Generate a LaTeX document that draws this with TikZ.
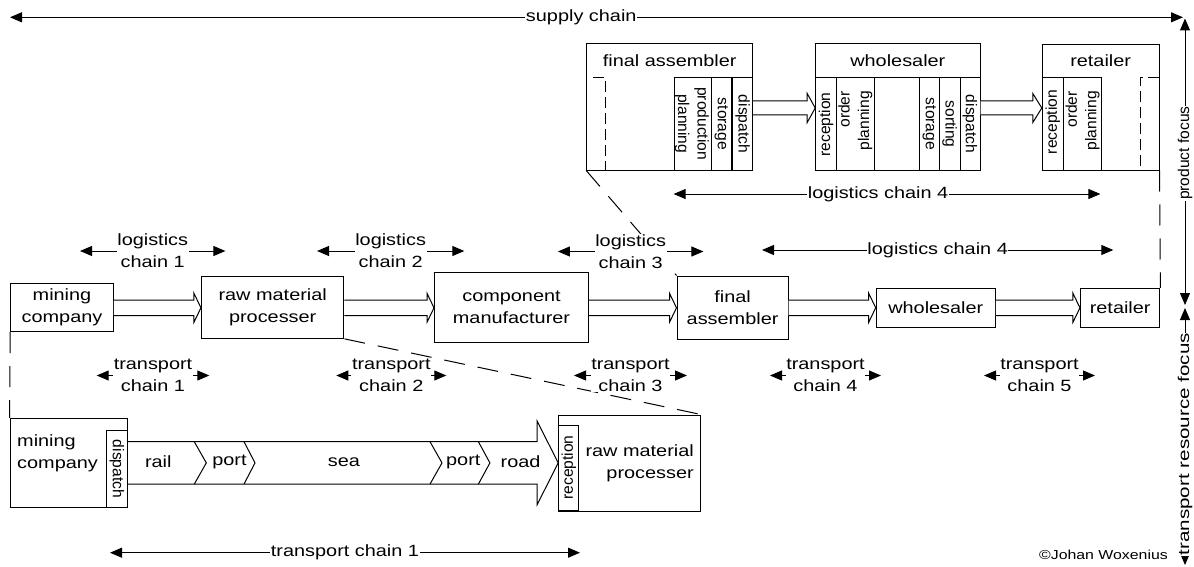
\documentclass[tikz,border=0pt]{standalone}
\usepackage{fontspec}
\setmainfont{Liberation Sans}[FakeStretch=1.22]
\newfontfamily\rotfont{Liberation Sans}
\newfontfamily\trfont{Liberation Sans}[FakeStretch=1.32]
\usetikzlibrary{arrows.meta,calc}
\newcommand\mainfs{\fontsize{16.3}{22}\selectfont}
\newcommand\rotfs{\rotfont\fontsize{15.6}{19.5}\selectfont}
\newcommand\trfs{\trfont\fontsize{15.6}{19.5}\selectfont}
\newcommand\smallfs{\fontsize{13}{15}\selectfont}
% #1 source node, #2 target node, #3 centre y, #4 half shaft, #5 half head, #6 head length
\newcommand\hollowarrow[6]{%
  \draw[harrow] ($(#1.east |- 0,#3)+(0,-#4)$) -- ($(#2.west |- 0,#3)+(-#6,-#4)$)
    -- ($(#2.west |- 0,#3)+(-#6,-#5)$) -- (#2.west |- 0,#3)
    -- ($(#2.west |- 0,#3)+(-#6,#5)$) -- ($(#2.west |- 0,#3)+(-#6,#4)$)
    -- ($(#1.east |- 0,#3)+(0,#4)$);}
\begin{document}
\begin{tikzpicture}[x=1pt,y=-1pt, font=\mainfs,
  sz/.style 2 args={minimum width=#1pt, minimum height=#2pt},
  box/.style={draw, line width=1pt, fill=white, inner sep=0pt, align=center},
  cellbox/.style={draw, line width=1pt, fill=white, inner sep=0pt},
  lbl/.style={fill=white, inner sep=0.6pt, align=center},
  dimarrow/.style={line width=1pt, {Triangle[length=12pt,width=10pt]}-{Triangle[length=12pt,width=10pt]}},
  dsh/.style={line width=1pt, dash pattern=on 21pt off 13pt},
  sdsh/.style={line width=1pt, dash pattern=on 11pt off 5pt},
  harrow/.style={draw, line width=1pt, fill=white, line join=miter},
  rtext/.style={font=\rotfs, inner sep=0pt, align=center},
]
\useasboundingbox (0,0) rectangle (1194,567);
\fill[white] (0,0) rectangle (1194,567);

% ---------- middle row ----------
\node[box, sz={102.6}{48.4}] (mc) at (62,307.5) {mining\\company};
\node[box, sz={142.5}{62.3}] (rmp) at (272.7,307.2) {raw material\\processer};
\node[box, sz={154}{70}] (cm) at (511.5,307.7) {component\\manufacturer};
\node[box, sz={111.2}{63}] (fa) at (732.6,307.5) {final\\assembler};
\node[box, sz={119.2}{39}] (wh) at (935.8,307.8) {wholesaler};
\node[box, sz={79.5}{39}] (rt) at (1120.2,307.8) {retailer};

\hollowarrow{mc}{rmp}{307.8}{7.8}{14.5}{7}
\hollowarrow{rmp}{cm}{307.8}{7.8}{14.5}{7}
\hollowarrow{cm}{fa}{307.8}{7.8}{14.5}{7}
\hollowarrow{fa}{wh}{307.8}{7.8}{14.5}{7}
\hollowarrow{wh}{rt}{307.8}{7.8}{14.5}{7}

% ---------- top detail ----------
\node[box, sz={166}{126}] (tfa) at (669.7,107) {};
\node (tfat) at (669.7,61) {final assembler};
\node[cellbox, sz={37.4}{92.7}] (tfapp) at (693,123.65) {};
\node[cellbox, sz={19.3}{92.7}] (tfast) at (721.35,123.65) {};
\node[cellbox, sz={20}{92.7}] (tfad) at (742.7,123.65) {};
\draw[sdsh] (593,77.3) -- (605,77.3) -- (605,170);
\node[rtext, rotate=-90] (tfappt) at (692,123.7) {production\\planning};
\node[rtext, rotate=-90] (tfastt) at (721.35,124) {storage};
\node[rtext, rotate=-90] (tfadt) at (742.7,124) {dispatch};

\node[box, sz={164.3}{126}] (twh) at (897.85,107) {};
\node[box, sz={164.3}{33.7}] (twht) at (897.85,60.85) {wholesaler};
\node[cellbox, sz={21}{92.3}] (twhr) at (826.2,123.85) {};
\node[cellbox, sz={37.3}{92.3}] (twho) at (855.35,123.85) {};
\node[cellbox, sz={20}{92.3}] (twhs) at (929.3,123.85) {};
\node[cellbox, sz={20.7}{92.3}] (twhso) at (949.65,123.85) {};
\node[cellbox, sz={20}{92.3}] (twhd) at (970,123.85) {};
\node[rtext, rotate=90] (twhrt) at (826.2,124.5) {reception};
\node[rtext, rotate=90, anchor=east, align=right] (twhot) at (855.35,91) {order\\planning};
\node[rtext, rotate=-90] (twhst) at (929.3,124) {storage};
\node[rtext, rotate=-90] (twhsot) at (949.65,124) {sorting};
\node[rtext, rotate=-90] (twhdt) at (970,124) {dispatch};

\node[box, sz={116.7}{125.3}] (trt) at (1100.65,107.35) {};
\node (trtt) at (1100.65,61) {retailer};
\node[cellbox, sz={21}{92.3}] (trtr) at (1052.8,123.85) {};
\node[cellbox, sz={38.4}{92.3}] (trto) at (1082.5,123.85) {};
\draw[sdsh] (1159,77.7) -- (1140,77.7) -- (1140,170);
\node[rtext, rotate=90] (trtrt) at (1052.8,122) {reception};
\node[rtext, rotate=90, anchor=east, align=right] (trtot) at (1082.5,91) {order\\planning};

\hollowarrow{tfad}{twhr}{108}{7}{14.5}{8}
\hollowarrow{twhd}{trtr}{108}{7}{14.5}{9}

% ---------- bottom detail ----------
\node[box, sz={117.5}{89}] (bmc) at (68.75,462.8) {};
\node[anchor=west, align=left, inner sep=0pt] (bmct) at (17,453) {mining\\company};
\node[cellbox, sz={21.1}{76.6}] (bdisp) at (116.95,469) {};
\node[rtext, rotate=-90] (bdispt) at (117,469) {dispatch};
\node[box, sz={141.8}{96}] (brmp) at (629.6,463) {};
\node[anchor=east, align=right, inner sep=0pt] (brmpt) at (694,463) {raw material\\processer};
\node[cellbox, sz={20.2}{85}] (brec) at (568.8,467.5) {};
\node[rtext, rotate=90] (brect) at (568.8,467.5) {reception};

\hollowarrow{bdisp}{brec}{462.9}{21.2}{41.7}{21}
\draw[line width=1pt] (194.3,441.7) -- ++(12,21.2) -- ++(-12,21.2);
\draw[line width=1pt] (244,441.7) -- ++(11,21.2) -- ++(-11,21.2);
\draw[line width=1pt] (430,441.7) -- ++(12,21.2) -- ++(-12,21.2);
\draw[line width=1pt] (478.4,441.7) -- ++(11.5,21.2) -- ++(-11.5,21.2);
\node (rail) at (158.3,462) {rail};
\node (port1) at (229.4,462) {port};
\node (sea) at (344,462) {sea};
\node (port2) at (463.3,462) {port};
\node (road) at (520.6,462) {road};

% ---------- dashed zoom connectors ----------
\draw[dsh] (mc.south west) -- (bmc.north west);
\draw[dsh] (rmp.south east) -- (brmp.north east);
\draw[dsh] (tfa.south west) -- (fa.north west);
\draw[dsh] (trt.south east) -- (rt.north east);

% ---------- chain labels ----------
\coordinate (sca) at (10,17.3); \coordinate (scb) at (1183,17.3);
\draw[dimarrow] (sca) -- (scb) node[lbl, pos=0.487] (scl) {supply chain};

\coordinate (lc1a) at (80,251); \coordinate (lc1b) at (225.4,251);
\draw[dimarrow] (lc1a) -- (lc1b) node[lbl, midway] (lc1) {logistics\\chain 1};
\coordinate (lc2a) at (317,251); \coordinate (lc2b) at (464.3,251);
\draw[dimarrow] (lc2a) -- (lc2b) node[lbl, midway] (lc2) {logistics\\chain 2};
\coordinate (lc3a) at (557.9,251.5); \coordinate (lc3b) at (703.4,251.5);
\draw[dimarrow] (lc3a) -- (lc3b) node[lbl, midway] (lc3) {logistics\\chain 3};
\coordinate (lc4a) at (762,250); \coordinate (lc4b) at (1113.3,250);
\draw[dimarrow] (lc4a) -- (lc4b) node[lbl, midway] (lc4) {logistics chain 4};
\coordinate (tl4a) at (673.6,194); \coordinate (tl4b) at (1100.4,194);
\draw[dimarrow] (tl4a) -- (tl4b) node[lbl, pos=0.479] (tl4) {logistics chain 4};

\coordinate (tc1a) at (96.7,375.5); \coordinate (tc1b) at (209.3,375.5);
\draw[dimarrow] (tc1a) -- (tc1b) node[lbl, midway] (tc1) {transport\\chain 1};
\coordinate (tc2a) at (336.3,375.5); \coordinate (tc2b) at (446.3,375.5);
\draw[dimarrow] (tc2a) -- (tc2b) node[lbl, midway] (tc2) {transport\\chain 2};
\coordinate (tc3a) at (574,375.5); \coordinate (tc3b) at (687,375.5);
\draw[dimarrow] (tc3a) -- (tc3b) node[lbl, midway] (tc3) {transport\\chain 3};
\coordinate (tc4a) at (770,375.5); \coordinate (tc4b) at (881,375.5);
\draw[dimarrow] (tc4a) -- (tc4b) node[lbl, midway] (tc4) {transport\\chain 4};
\coordinate (tc5a) at (984,375.5); \coordinate (tc5b) at (1095,375.5);
\draw[dimarrow] (tc5a) -- (tc5b) node[lbl, midway] (tc5) {transport\\chain 5};
\coordinate (btca) at (110,552.7); \coordinate (btcb) at (580,552.7);
\draw[dimarrow] (btca) -- (btcb) node[lbl, midway] (btc) {transport chain 1};

% ---------- focus axis ----------
\coordinate (pfa) at (1185,18.5); \coordinate (pfb) at (1185,305);
\draw[dimarrow] (pfa) -- (pfb) node[lbl, rotate=90, pos=0.47, font=\rotfs] (pfl) {product focus};
\coordinate (tra) at (1185,308); \coordinate (trb) at (1185,565);
\draw[dimarrow] (tra) -- (trb) node[lbl, rotate=90, pos=0.53, font=\trfs] (trl) {transport resource focus};

\node[anchor=east, font=\smallfs, inner sep=0pt] (copy) at (1168,555) {©Johan Woxenius};
\end{tikzpicture}
\end{document}
